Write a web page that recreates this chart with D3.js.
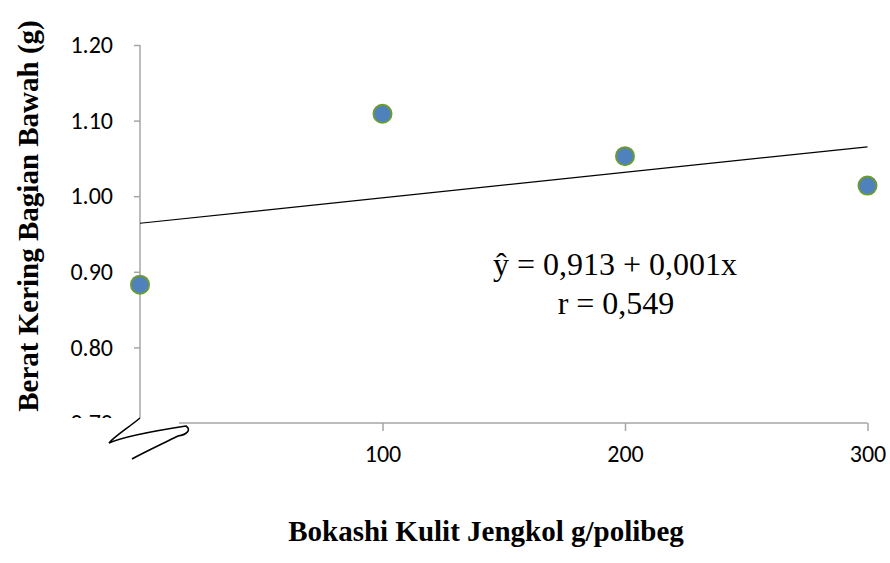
<!DOCTYPE html>
<html>
<head>
<meta charset="utf-8">
<script src="https://cdn.jsdelivr.net/npm/d3@7"></script>
<style>
  body { margin: 0; background: #fff; }
  svg { display: block; }
</style>
</head>
<body>
<div id="chart"></div>
<script>
// data
const doses = [0, 100, 200, 300];
const weights = [0.883, 1.109, 1.053, 1.014];
const yTicks = [0.7, 0.8, 0.9, 1.0, 1.1, 1.2];
const xTicks = [100, 200, 300];
const equation = "ŷ = 0,913 + 0,001x";
const rText = "r = 0,549";

const width = 890;
const height = 563;

const svg = d3.select("#chart").append("svg")
  .attr("width", width)
  .attr("height", height);

const x = d3.scaleLinear().domain([0, 300]).range([140, 867.5]);
const y = d3.scaleLinear().domain([0.7, 1.2]).range([423, 45]);

const axisColor = "#a6a6a6";
const sans = "Carlito, 'Liberation Sans', Arial, sans-serif";
const serif = "'Liberation Serif', 'Times New Roman', serif";
const fmt = d3.format(".2f");

// y axis
const yAxis = svg.append("g")
  .attr("transform", `translate(${x(0)},0)`)
  .call(d3.axisLeft(y).tickValues(yTicks.slice(1)).tickFormat(fmt).tickSize(6).tickPadding(21));
yAxis.select(".domain").remove();
yAxis.selectAll(".tick line").attr("stroke", axisColor).attr("stroke-width", 1.5);
yAxis.selectAll("text")
  .attr("font-family", sans).attr("font-size", 24).attr("fill", "#000");

// only the top of the lowest label shows above the break
svg.append("clipPath").attr("id", "cutLow")
  .append("rect").attr("x", 0).attr("y", 0).attr("width", 140).attr("height", 418);
svg.append("text")
  .attr("clip-path", "url(#cutLow)")
  .attr("x", 113).attr("y", y(yTicks[0]))
  .attr("dy", "0.32em")
  .attr("text-anchor", "end")
  .attr("font-family", sans).attr("font-size", 24)
  .text(fmt(yTicks[0]));

svg.append("line")
  .attr("x1", x(0)).attr("x2", x(0))
  .attr("y1", y(1.2)).attr("y2", 418)
  .attr("stroke", axisColor).attr("stroke-width", 1.5);

// x axis
const xAxis = svg.append("g")
  .attr("transform", `translate(0,${y(0.7)})`)
  .call(d3.axisBottom(x).tickValues(xTicks).tickSize(8).tickPadding(14));
xAxis.select(".domain").remove();
xAxis.selectAll(".tick line").attr("stroke", axisColor).attr("stroke-width", 1.5);
xAxis.selectAll("text")
  .attr("font-family", sans).attr("font-size", 24).attr("fill", "#000");
svg.append("line")
  .attr("x1", 179).attr("x2", x(300))
  .attr("y1", y(0.7)).attr("y2", y(0.7))
  .attr("stroke", axisColor).attr("stroke-width", 1.5);

// axis break squiggle
svg.append("path")
  .attr("d", "M140,418 C128,428 115,436 109,443 C125,436 160,430 186,426 C192,430 186,435 178,436 C162,444 145,452 132,459")
  .attr("fill", "none").attr("stroke", "#000").attr("stroke-width", 1.6);

// linear trendline (least squares from the data)
const mx = d3.mean(doses), my = d3.mean(weights);
const slope = d3.sum(doses, (d, i) => (d - mx) * (weights[i] - my)) /
  d3.sum(doses, d => (d - mx) * (d - mx));
const icpt = my - slope * mx;
svg.append("line")
  .attr("x1", x(0)).attr("y1", y(icpt))
  .attr("x2", x(300)).attr("y2", y(icpt + slope * 300))
  .attr("stroke", "#000").attr("stroke-width", 1.2);

// points
svg.append("g").selectAll("circle")
  .data(doses)
  .join("circle")
  .attr("cx", d => x(d))
  .attr("cy", (d, i) => y(weights[i]))
  .attr("r", 9)
  .attr("fill", "#4f81bd")
  .attr("stroke", "#6b9a3b")
  .attr("stroke-width", 2);

// equation
svg.append("text")
  .attr("x", 615).attr("y", 275)
  .attr("text-anchor", "middle")
  .attr("font-family", serif).attr("font-size", 32)
  .text(equation);
svg.append("text")
  .attr("x", 616).attr("y", 314)
  .attr("text-anchor", "middle")
  .attr("font-family", serif).attr("font-size", 32)
  .text(rText);

// axis titles
svg.append("text")
  .attr("transform", "translate(38,216) rotate(-90)")
  .attr("text-anchor", "middle")
  .attr("font-family", serif).attr("font-size", 29).attr("font-weight", "bold")
  .text("Berat Kering Bagian Bawah (g)");
svg.append("text")
  .attr("x", 486).attr("y", 541)
  .attr("text-anchor", "middle")
  .attr("font-family", serif).attr("font-size", 29).attr("font-weight", "bold")
  .text("Bokashi Kulit Jengkol g/polibeg");
</script>
</body>
</html>
